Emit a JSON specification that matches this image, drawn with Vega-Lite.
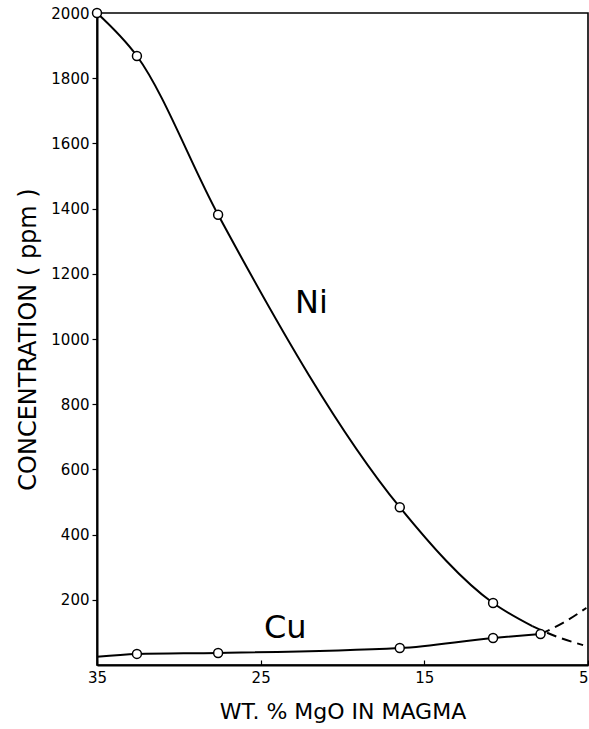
{
  "$schema": "https://vega.github.io/schema/vega-lite/v6.json",
  "autosize": "none",
  "width": 491,
  "height": 652,
  "padding": {"left": 97, "top": 13, "right": 1, "bottom": 64},
  "background": "white",
  "config": {
    "view": {"stroke": "black", "strokeWidth": 1.6},
    "font": "DejaVu Sans"
  },
  "datasets": {
    "solid": [
      {"series": "Ni", "mgo": 35, "ppm": 2000},
      {"series": "Ni", "mgo": 32.56, "ppm": 1868},
      {"series": "Ni", "mgo": 27.6, "ppm": 1381},
      {"series": "Ni", "mgo": 16.5, "ppm": 484},
      {"series": "Ni", "mgo": 10.8, "ppm": 190},
      {"series": "Ni", "mgo": 8.4, "ppm": 119},
      {"series": "Cu", "mgo": 35, "ppm": 25},
      {"series": "Cu", "mgo": 32.56, "ppm": 34},
      {"series": "Cu", "mgo": 27.6, "ppm": 37},
      {"series": "Cu", "mgo": 16.5, "ppm": 52},
      {"series": "Cu", "mgo": 10.8, "ppm": 83},
      {"series": "Cu", "mgo": 7.9, "ppm": 95}
    ],
    "dashed": [
      {"series": "Ni", "mgo": 8.4, "ppm": 119},
      {"series": "Ni", "mgo": 6.8, "ppm": 85},
      {"series": "Ni", "mgo": 5.3, "ppm": 61},
      {"series": "Cu", "mgo": 7.9, "ppm": 95},
      {"series": "Cu", "mgo": 6.5, "ppm": 130},
      {"series": "Cu", "mgo": 5.1, "ppm": 175}
    ],
    "markers": [
      {"series": "Ni", "mgo": 35, "ppm": 2000},
      {"series": "Ni", "mgo": 32.56, "ppm": 1868},
      {"series": "Ni", "mgo": 27.6, "ppm": 1381},
      {"series": "Ni", "mgo": 16.5, "ppm": 484},
      {"series": "Ni", "mgo": 10.8, "ppm": 190},
      {"series": "Cu", "mgo": 32.56, "ppm": 34},
      {"series": "Cu", "mgo": 27.6, "ppm": 37},
      {"series": "Cu", "mgo": 16.5, "ppm": 52},
      {"series": "Cu", "mgo": 10.8, "ppm": 83},
      {"series": "Cu", "mgo": 7.9, "ppm": 95}
    ],
    "labels": [
      {"label": "Ni", "mgo": 21.9, "ppm": 1109},
      {"label": "Cu", "mgo": 23.5, "ppm": 113}
    ]
  },
  "encoding": {
    "x": {
      "field": "mgo", "type": "quantitative",
      "scale": {"domain": [35, 5], "nice": false, "zero": false},
      "axis": {
        "title": "WT. % MgO IN MAGMA",
        "values": [35, 25, 15, 5],
        "format": "d",
        "grid": false,
        "domainColor": "black", "domainWidth": 2,
        "tickColor": "black", "tickSize": -5, "tickWidth": 1.2,
        "labelFontSize": 15, "labelColor": "black", "labelPadding": 10,
        "labelFlush": false,
        "labelAlign": {"condition": {"test": "datum.value == 5", "value": "right"}, "value": "center"},
        "titleFontSize": 22, "titleFontWeight": "normal", "titleColor": "black",
        "titlePadding": 16
      }
    },
    "y": {
      "field": "ppm", "type": "quantitative",
      "scale": {"domain": [0, 2000], "nice": false},
      "axis": {
        "title": "CONCENTRATION ( ppm )",
        "values": [200, 400, 600, 800, 1000, 1200, 1400, 1600, 1800, 2000],
        "format": "d",
        "grid": false,
        "domainColor": "black", "domainWidth": 2,
        "tickColor": "black", "tickSize": 5, "tickWidth": 1.2,
        "labelFontSize": 15, "labelColor": "black", "labelPadding": 3,
        "titleFontSize": 24, "titleFontWeight": "normal", "titleColor": "black",
        "titlePadding": 10
      }
    }
  },
  "layer": [
    {
      "data": {"name": "solid"},
      "mark": {"type": "line", "interpolate": "monotone", "color": "black", "strokeWidth": 2},
      "encoding": {"detail": {"field": "series"}, "order": {"field": "mgo", "sort": "descending"}}
    },
    {
      "data": {"name": "dashed"},
      "mark": {"type": "line", "interpolate": "monotone", "color": "black", "strokeWidth": 2, "strokeDash": [10, 6]},
      "encoding": {"detail": {"field": "series"}, "order": {"field": "mgo", "sort": "descending"}}
    },
    {
      "data": {"name": "markers"},
      "mark": {"type": "point", "shape": "circle", "filled": true, "fill": "white", "stroke": "black", "strokeWidth": 1.5, "size": 80, "opacity": 1}
    },
    {
      "data": {"name": "labels"},
      "mark": {"type": "text", "fontSize": 32, "color": "black"},
      "encoding": {"text": {"field": "label"}}
    }
  ]
}
